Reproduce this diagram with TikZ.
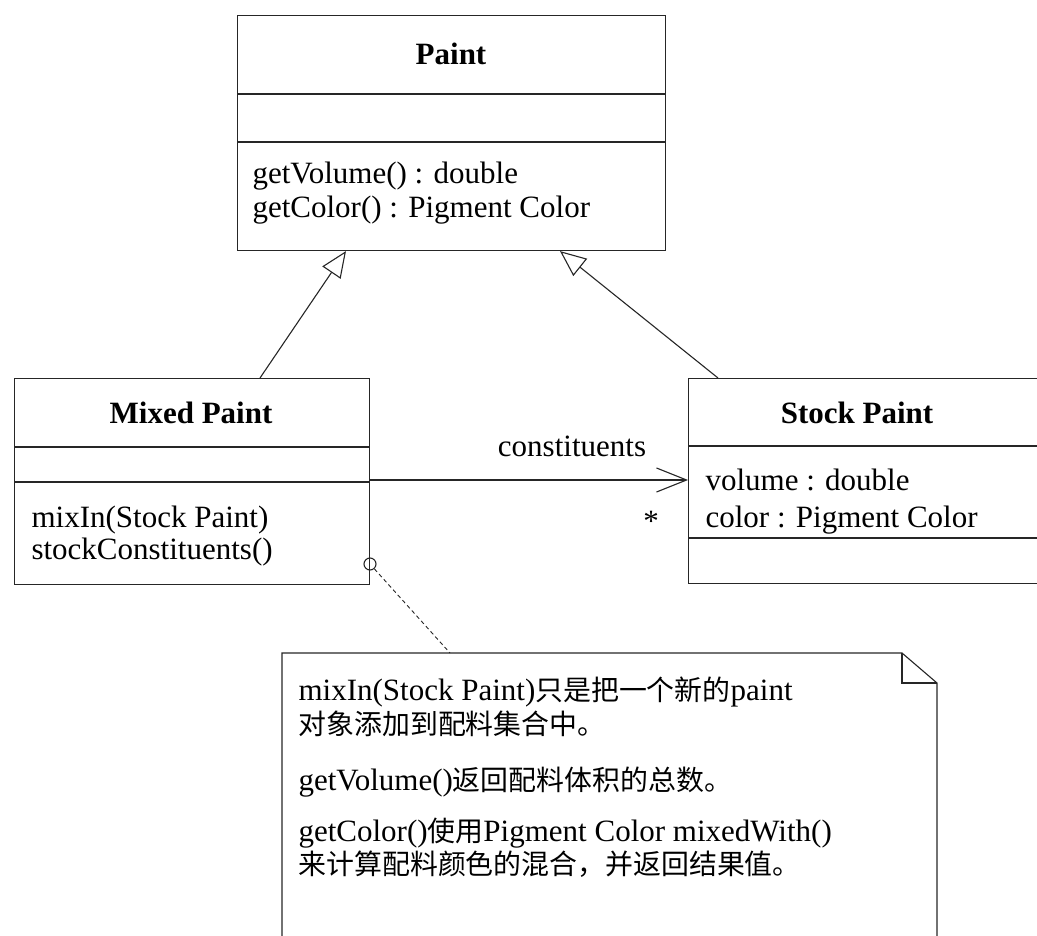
\documentclass[tikz,border=0pt]{standalone}
\usepackage{fontspec}
\setmainfont{Liberation Serif}
\newfontfamily\cjk[Scale=0.9]{Noto Sans CJK SC}
\usetikzlibrary{arrows.meta,calc}
\begin{document}
\begin{tikzpicture}[x=1pt,y=-1pt,
  line width=1.1pt,color=black!85,
  umlbox/.style={draw,rectangle,anchor=north west,inner sep=0pt},
  txt/.style={anchor=base west,inner sep=0pt,text=black,font=\fontsize{31}{34}\selectfont},
  ttl/.style={anchor=base,inner sep=0pt,text=black,font=\fontsize{31}{34}\selectfont\bfseries},
  gen/.style={-{Triangle[open,length=26pt,width=22pt]}},
  assoc/.style={-{Straight Barb[length=30pt,width=24pt]}},
  notelink/.style={dash pattern=on 4pt off 3pt,line width=0.9pt}]
\useasboundingbox (0,0) rectangle (1037,936);
\clip (0,0) rectangle (1037,936);
% Paint
\node[umlbox,minimum width=428pt,minimum height=235pt] (paint) at (237,15) {};
\draw (paint.west |- 0,94) -- (paint.east |- 0,94);
\draw (paint.west |- 0,142) -- (paint.east |- 0,142);
\node[ttl] (paintT) at (451,65) {Paint};
\node[txt] (paintM1) at (252,184) {getVolume() : double};
\node[txt] (paintM2) at (252,218) {getColor() : Pigment Color};
% Mixed Paint
\node[umlbox,minimum width=355pt,minimum height=206pt] (mixed) at (14,378) {};
\draw (mixed.west |- 0,447) -- (mixed.east |- 0,447);
\draw (mixed.west |- 0,482) -- (mixed.east |- 0,482);
\node[ttl] (mixedT) at (191,423) {Mixed Paint};
\node[txt] (mixedM1) at (31,527) {mixIn(Stock Paint)};
\node[txt] (mixedM2) at (31,559) {stockConstituents()};
% Stock Paint
\node[umlbox,minimum width=400pt,minimum height=205pt] (stock) at (688,378) {};
\draw (stock.west |- 0,446) -- (stock.east |- 0,446);
\draw (stock.west |- 0,538) -- (stock.east |- 0,538);
\node[ttl] (stockT) at (857,423) {Stock Paint};
\node[txt] (stockA1) at (705,490) {volume : double};
\node[txt] (stockA2) at (705,527) {color : Pigment Color};
% generalizations
\draw[gen] ([xshift=246pt]mixed.north west) -- ([xshift=109pt]paint.south west);
\draw[gen] ([xshift=30pt]stock.north west) -- ([xshift=323pt]paint.south west);
% association
\draw[assoc] ([yshift=-102pt]mixed.north east) -- ([yshift=-102pt]stock.north west);
\node[txt,anchor=base] (constLbl) at (572,456) {constituents};
\node[txt,anchor=base] (mult) at (651,531) {*};
% note
\coordinate (nTL) at (282,653);
\coordinate (nF1) at (902,653);
\coordinate (nF2) at (937,683);
\coordinate (nBR) at (937,960);
\coordinate (nBL) at (282,960);
\draw (nBL) -- (nTL) -- (nF1) -- (nF2) -- (nBR);
\draw (nF1) -- (nF1 |- nF2) -- (nF2);
\coordinate (noteLink) at (450,653);
\node[circle,draw,minimum size=12pt,inner sep=0pt] (anchorC) at (370,564) {};
\draw[notelink] (anchorC) -- (noteLink);
\node[txt] (note1) at (298,700) {mixIn(Stock Paint){\cjk 只是把一个新的}paint};
\node[txt] (note2) at (298,734) {{\cjk 对象添加到配料集合中。}};
\node[txt] (note3) at (298,790) {getVolume(){\cjk 返回配料体积的总数。}};
\node[txt] (note4) at (298,841) {getColor(){\cjk 使用}Pigment Color mixedWith()};
\node[txt] (note5) at (298,874) {{\cjk 来计算配料颜色的混合，并返回结果值。}};
\end{tikzpicture}
\end{document}
